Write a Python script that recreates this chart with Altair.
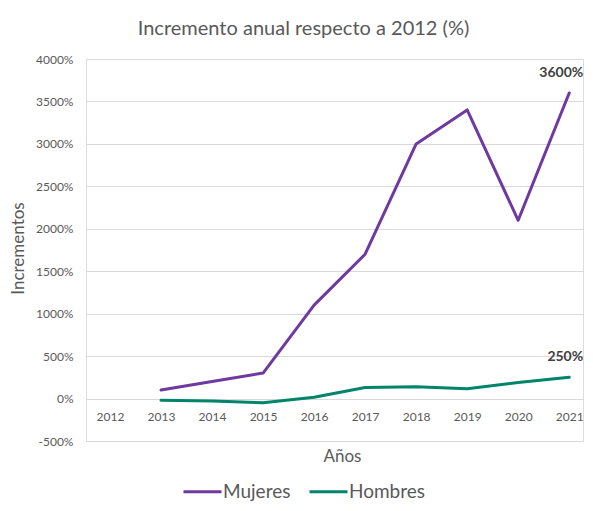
import altair as alt
import pandas as pd

years = [2013, 2014, 2015, 2016, 2017, 2018, 2019, 2020, 2021]
mujeres = [100, 200, 300, 1100, 1700, 3000, 3400, 2100, 3600]
hombres = [-20, -30, -50, 15, 130, 140, 115, 190, 250]
series_names = ["Mujeres", "Hombres"]
series_colors = ["#6e3aa0", "#00846a"]
year_ticks = [2012, 2013, 2014, 2015, 2016, 2017, 2018, 2019, 2020, 2021]
y_ticks = [-500, 0, 500, 1000, 1500, 2000, 2500, 3000, 3500, 4000]
label_texts = ["3600%", "250%"]

rows = []
for y, v in zip(years, mujeres):
    rows.append({"Año": y, "Valor": v, "Serie": "Mujeres"})
for y, v in zip(years, hombres):
    rows.append({"Año": y, "Valor": v, "Serie": "Hombres"})
df = pd.DataFrame(rows)

lab_df = pd.DataFrame({
    "Año": [years[-1], years[-1]],
    "Valor": [mujeres[-1], hombres[-1]],
    "Texto": label_texts,
})

FONT = "Lato"
GREY = "#595959"

x_scale = alt.Scale(domain=[2011.53, 2021.27], nice=False, zero=False)
y_scale = alt.Scale(domain=[-500, 4000], nice=False)

lines = alt.Chart(df).mark_line(strokeWidth=3, strokeJoin="round", strokeCap="round").encode(
    x=alt.X("Año:Q", scale=x_scale,
            axis=alt.Axis(values=year_ticks, format="d", title="Años", offset=-42,
                          domain=False, ticks=False, tickSize=0, grid=False,
                          labelPadding=12, labelFontSize=12, labelColor=GREY, labelFont=FONT,
                          titleFontSize=17, titleColor=GREY, titleFont=FONT, titleFontWeight="normal",
                          titleX=256, titleY=49, titleBaseline="top")),
    y=alt.Y("Valor:Q", scale=y_scale,
            axis=alt.Axis(values=y_ticks, labelExpr="datum.value + '%'", title="Incrementos",
                          domain=False, ticks=False, tickSize=0, grid=True,
                          gridColor="#d9d9d9", gridWidth=1,
                          labelPadding=13, labelFontSize=12, labelColor=GREY, labelFont=FONT,
                          titleFontSize=17, titleColor=GREY, titleFont=FONT, titleFontWeight="normal",
                          titleX=-59, titleY=189)),
    color=alt.Color("Serie:N",
                    scale=alt.Scale(domain=series_names, range=series_colors),
                    sort=series_names,
                    legend=alt.Legend(title=None, orient="none", direction="horizontal",
                                      legendX=96, legendY=412,
                                      symbolType="stroke", symbolStrokeWidth=3, symbolSize=1444,
                                      labelFontSize=19, labelColor=GREY, labelFont=FONT,
                                      labelOffset=0, columnPadding=12)),
)

labels = alt.Chart(lab_df).mark_text(font=FONT, fontSize=14, fontWeight="bold",
                                      color="#404040", dy=-20, dx=14, align="right").encode(
    x=alt.X("Año:Q", scale=x_scale),
    y=alt.Y("Valor:Q", scale=y_scale),
    text="Texto:N",
)

chart = alt.layer(lines, labels).properties(
    width=497,
    height=382,
    autosize=alt.AutoSizeParams(type="none"),
    padding={"left": 78, "top": 51, "right": 2, "bottom": 62},
    title=alt.TitleParams("Incremento anual respecto a 2012 (%)", font=FONT, fontSize=20,
                          fontWeight="normal", color=GREY, anchor="middle", dx=-31, offset=14),
).configure_view(stroke=None).configure(background="white")

chart.save("out.html", embed_options={"renderer": "svg", "actions": False})
